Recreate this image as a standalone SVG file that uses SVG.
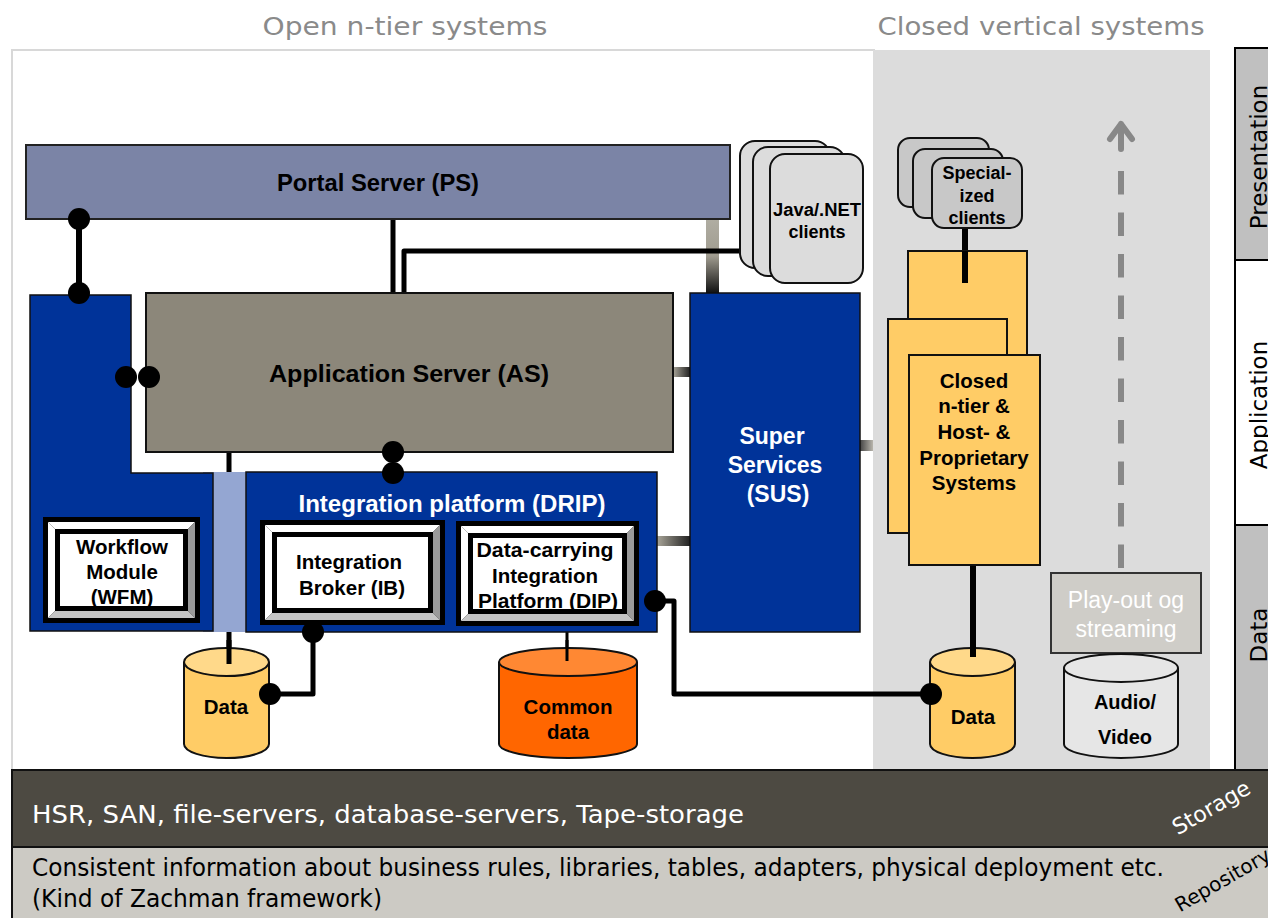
<svg xmlns="http://www.w3.org/2000/svg" width="1268" height="918" viewBox="0 0 1268 918">
<defs>
<style>
.b{font-family:"Liberation Sans",Arial,sans-serif;font-weight:bold;text-anchor:middle;fill:#000}
.w{fill:#fff}
.t{font-family:"DejaVu Sans","Liberation Sans",sans-serif}
.ln{fill:none;stroke:#000;stroke-width:5;stroke-linejoin:round}
.dot{fill:#000}
.frame{fill:#000}
.hi{fill:#fff}
.sh{fill:#9a9a9a}
.sb{fill:#c4c4c4}
.bl{fill:#003399;stroke:#111;stroke-width:1.5}
</style>
<linearGradient id="gv" x1="0" y1="0" x2="0" y2="1"><stop offset="0" stop-color="#b0ada2"/><stop offset="0.5" stop-color="#a09c90"/><stop offset="1" stop-color="#111"/></linearGradient>
<linearGradient id="gh" x1="0" y1="0" x2="1" y2="0"><stop offset="0" stop-color="#a8a498"/><stop offset="1" stop-color="#222"/></linearGradient>
<linearGradient id="gh2" x1="0" y1="0" x2="1" y2="0"><stop offset="0" stop-color="#444"/><stop offset="1" stop-color="#b8b5ac"/></linearGradient>
</defs>

<!-- backgrounds -->
<rect x="0" y="0" width="1268" height="918" fill="#fff"/>
<rect x="12" y="50" width="862" height="720" fill="#fff" stroke="#d8d8d8" stroke-width="2"/>
<rect x="873" y="50" width="337" height="720" fill="#dcdcdc"/>
<text class="t" x="405" y="35" font-size="24" fill="#8a8a8a" text-anchor="middle" textLength="285" lengthAdjust="spacingAndGlyphs">Open n-tier systems</text>
<text class="t" x="1041" y="35" font-size="24" fill="#8a8a8a" text-anchor="middle" textLength="327" lengthAdjust="spacingAndGlyphs">Closed vertical systems</text>

<!-- tier column -->
<g id="tiers">
<rect x="1235" y="48" width="40" height="212" fill="#c0c0c0" stroke="#000" stroke-width="2"/>
<rect x="1235" y="260" width="40" height="265" fill="#fff" stroke="#000" stroke-width="2"/>
<rect x="1235" y="525" width="40" height="245" fill="#c0c0c0" stroke="#000" stroke-width="2"/>
<text class="t" transform="translate(1267,157) rotate(-90)" font-size="23" text-anchor="middle" fill="#000">Presentation</text>
<text class="t" transform="translate(1267,405) rotate(-90)" font-size="23" text-anchor="middle" fill="#000">Application</text>
<text class="t" transform="translate(1267,635) rotate(-90)" font-size="23" text-anchor="middle" fill="#000">Data</text>
</g>

<!-- connectors -->
<g id="connectors">
<rect x="706" y="219" width="13" height="74" fill="url(#gv)"/>
<rect x="673" y="367" width="17" height="10" fill="url(#gh)"/>
<rect x="657" y="536" width="33" height="10" fill="url(#gh)"/>
<rect x="860" y="440" width="13" height="11" fill="url(#gh2)"/>
<line class="ln" x1="393" y1="219" x2="393" y2="293"/>
<path class="ln" d="M404,293 V251 H763"/>
<line class="ln" x1="229" y1="452" x2="229" y2="664"/>
<path class="ln" d="M313,632 V694 H270" stroke-width="6"/>
<line x1="567" y1="626" x2="567" y2="660" stroke="#000" stroke-width="3"/>
<path class="ln" d="M655,601 H674 V694 H931" stroke-width="6"/>
<line x1="973" y1="565" x2="973" y2="657" stroke="#000" stroke-width="6"/>
<line x1="965" y1="228" x2="965" y2="283" stroke="#000" stroke-width="6"/>
<line x1="79" y1="219" x2="79" y2="293" stroke="#000" stroke-width="6"/>
<path d="M1121,568 V167" stroke="#888" stroke-width="6" stroke-dasharray="23.5 18" fill="none"/>
<path d="M1121,149 V124 M1110,139 L1121,124 L1132,139" stroke="#888" stroke-width="6" fill="none" stroke-linecap="round" stroke-linejoin="round"/>
</g>

<!-- nodes -->
<g id="ps">
<rect x="26" y="145" width="704" height="74" fill="#7b84a6" stroke="#222" stroke-width="2"/>
<text class="b" x="378" y="191" font-size="23" textLength="202" lengthAdjust="spacingAndGlyphs">Portal Server (PS)</text>
</g>

<g id="java-clients">
<rect x="740" y="141" width="90" height="127" rx="15" fill="#dcdcdc" stroke="#111" stroke-width="2"/>
<rect x="753" y="147" width="92" height="129" rx="15" fill="#dcdcdc" stroke="#111" stroke-width="2"/>
<rect x="770" y="154" width="93" height="129" rx="15" fill="#dcdcdc" stroke="#111" stroke-width="2"/>
<text class="b" x="817" y="216" font-size="18" textLength="88" lengthAdjust="spacingAndGlyphs">Java/.NET</text>
<text class="b" x="817" y="238" font-size="18">clients</text>
</g>

<g id="wfm-block">
<rect x="203" y="472" width="45" height="160" fill="#94a6d2"/>
<path class="bl" d="M30,295 H131 V473 H213 V631 H30 Z"/>
</g>

<g id="as">
<rect x="146" y="293" width="527" height="159" fill="#8c877a" stroke="#111" stroke-width="2"/>
<text class="b" x="409" y="382" font-size="24" textLength="280" lengthAdjust="spacingAndGlyphs">Application Server (AS)</text>
</g>

<g id="sus">
<rect class="bl" x="690" y="293" width="170" height="339"/>
<text class="b w" x="772" y="444" font-size="23">Super</text>
<text class="b w" x="775" y="473" font-size="23">Services</text>
<text class="b w" x="778" y="502" font-size="23">(SUS)</text>
</g>

<g id="drip">
<rect class="bl" x="246" y="472" width="411" height="160"/>
<text class="b w" x="452" y="512" font-size="23" textLength="307" lengthAdjust="spacingAndGlyphs">Integration platform (DRIP)</text>
</g>

<g id="wfm">
<rect class="frame" x="43" y="517" width="157" height="106"/>
<polygon class="hi" points="48,522 195,522 188,529 55,529"/>
<polygon class="hi" points="48,522 55,529 55,611 48,618"/>
<polygon class="sh" points="195,522 195,618 188,611 188,529"/>
<polygon class="sb" points="48,618 195,618 188,611 55,611"/>
<rect x="60" y="534" width="123" height="72" fill="#fff"/>
<text class="b" x="122" y="554" font-size="20.5">Workflow</text>
<text class="b" x="122" y="579" font-size="20.5">Module</text>
<text class="b" x="122" y="604" font-size="20.5">(WFM)</text>
</g>

<g id="ib">
<rect class="frame" x="260" y="520" width="185" height="105"/>
<polygon class="hi" points="265,525 440,525 433,532 272,532"/>
<polygon class="hi" points="265,525 272,532 272,613 265,620"/>
<polygon class="sh" points="440,525 440,620 433,613 433,532"/>
<polygon class="sb" points="265,620 440,620 433,613 272,613"/>
<rect x="277" y="537" width="151" height="71" fill="#fff"/>
<text class="b" x="349" y="569" font-size="20.5">Integration</text>
<text class="b" x="352" y="595" font-size="20.5">Broker (IB)</text>
</g>

<g id="dip">
<rect class="frame" x="456" y="521" width="183" height="105"/>
<polygon class="hi" points="461,526 634,526 627,533 468,533"/>
<polygon class="hi" points="461,526 468,533 468,614 461,621"/>
<polygon class="sh" points="634,526 634,621 627,614 627,533"/>
<polygon class="sb" points="461,621 634,621 627,614 468,614"/>
<rect x="473" y="538" width="149" height="71" fill="#fff"/>
<text class="b" x="545" y="557" font-size="20.5" textLength="137" lengthAdjust="spacingAndGlyphs">Data-carrying</text>
<text class="b" x="545" y="583" font-size="20.5">Integration</text>
<text class="b" x="548" y="608" font-size="20.5" textLength="140" lengthAdjust="spacingAndGlyphs">Platform (DIP)</text>
</g>

<g id="data1">
<path d="M184,662 V744 A42.5,14 0 0 0 269,744 V662" fill="#ffcc66" stroke="#111" stroke-width="2"/>
<ellipse cx="226.5" cy="662" rx="42.5" ry="14" fill="#ffd98a" stroke="#111" stroke-width="2"/>
<line x1="229" y1="640" x2="229" y2="664" stroke="#000" stroke-width="5"/>
<text class="b" x="226" y="714" font-size="20.5">Data</text>
</g>

<g id="common-data">
<path d="M499,662 V744 A69,14 0 0 0 637,744 V662" fill="#ff6600" stroke="#111" stroke-width="2"/>
<ellipse cx="568" cy="662" rx="69" ry="14" fill="#ff8833" stroke="#111" stroke-width="2"/>
<line x1="567" y1="640" x2="567" y2="661" stroke="#000" stroke-width="3"/>
<text class="b" x="568" y="714" font-size="20.5">Common</text>
<text class="b" x="568" y="739" font-size="20.5">data</text>
</g>

<g id="spec-clients">
<rect x="898" y="138" width="91" height="69" rx="12" fill="#c8c8c8" stroke="#111" stroke-width="2"/>
<rect x="913" y="149" width="90" height="69" rx="12" fill="#c8c8c8" stroke="#111" stroke-width="2"/>
<rect x="932" y="158" width="90" height="70" rx="12" fill="#c8c8c8" stroke="#111" stroke-width="2"/>
<text class="b" x="977" y="179" font-size="18">Special-</text>
<text class="b" x="977" y="202" font-size="18">ized</text>
<text class="b" x="977" y="224" font-size="18">clients</text>
</g>

<g id="closed-systems">
<rect x="908" y="251" width="119" height="160" fill="#ffcc66" stroke="#111" stroke-width="2"/>
<rect x="888" y="319" width="119" height="214" fill="#ffcc66" stroke="#111" stroke-width="2"/>
<rect x="909" y="355" width="131" height="210" fill="#ffcc66" stroke="#111" stroke-width="2"/>
<line x1="965" y1="251" x2="965" y2="283" stroke="#000" stroke-width="6"/>
<text class="b" x="974" y="388" font-size="20.5">Closed</text>
<text class="b" x="974" y="413" font-size="20.5">n-tier &amp;</text>
<text class="b" x="974" y="439" font-size="20.5">Host- &amp;</text>
<text class="b" x="974" y="465" font-size="20.5">Proprietary</text>
<text class="b" x="974" y="490" font-size="20.5">Systems</text>
</g>

<g id="data2">
<path d="M930,662 V744 A42.5,14 0 0 0 1015,744 V662" fill="#ffcc66" stroke="#111" stroke-width="2"/>
<ellipse cx="972.5" cy="662" rx="42.5" ry="14" fill="#ffd98a" stroke="#111" stroke-width="2"/>
<line x1="973" y1="640" x2="973" y2="657" stroke="#000" stroke-width="6"/>
<text class="b" x="973" y="724" font-size="20.5">Data</text>
</g>

<g id="playout">
<rect x="1051" y="573" width="150" height="80" fill="#cfcdc8" stroke="#333" stroke-width="2"/>
<text x="1126" y="608" font-family="Liberation Sans,Arial,sans-serif" font-size="23" fill="#fff" text-anchor="middle">Play-out og</text>
<text x="1126" y="637" font-family="Liberation Sans,Arial,sans-serif" font-size="23" fill="#fff" text-anchor="middle">streaming</text>
</g>

<g id="av">
<path d="M1064,668 V744 A57,14 0 0 0 1178,744 V668" fill="#e6e6e6" stroke="#111" stroke-width="2"/>
<ellipse cx="1121" cy="668" rx="57" ry="14" fill="#e6e6e6" stroke="#111" stroke-width="2"/>
<text class="b" x="1125" y="709" font-size="20">Audio/</text>
<text class="b" x="1125" y="744" font-size="20">Video</text>
</g>

<!-- dots -->
<g id="dots">
<circle class="dot" cx="79" cy="219" r="11"/>
<circle class="dot" cx="79" cy="293" r="11"/>
<circle class="dot" cx="126" cy="377" r="11"/>
<circle class="dot" cx="149" cy="377" r="11"/>
<circle class="dot" cx="393" cy="452" r="11"/>
<circle class="dot" cx="393" cy="473" r="11"/>
<circle class="dot" cx="313" cy="632" r="11"/>
<circle class="dot" cx="270" cy="694" r="11"/>
<circle class="dot" cx="655" cy="601" r="11"/>
<circle class="dot" cx="931" cy="694" r="11"/>
</g>

<!-- bottom bands -->
<g id="storage">
<rect x="12" y="770" width="1270" height="77" fill="#4d4a42" stroke="#111" stroke-width="2"/>
<text class="t" x="32" y="823" font-size="24" fill="#fff" textLength="712" lengthAdjust="spacingAndGlyphs">HSR, SAN, file-servers, database-servers, Tape-storage</text>
<text class="t" transform="translate(1215,814) rotate(-30)" font-size="22" fill="#fff" text-anchor="middle">Storage</text>
</g>
<g id="repository">
<rect x="12" y="847" width="1270" height="80" fill="#cccac4" stroke="#111" stroke-width="2"/>
<text class="t" x="32" y="876" font-size="24" fill="#000" textLength="1132" lengthAdjust="spacingAndGlyphs">Consistent information about business rules, libraries, tables, adapters, physical deployment etc.</text>
<text class="t" x="32" y="907" font-size="24" fill="#000" textLength="350" lengthAdjust="spacingAndGlyphs">(Kind of Zachman framework)</text>
<text class="t" transform="translate(1226,886) rotate(-30)" font-size="20" fill="#000" text-anchor="middle">Repository</text>
</g>
</svg>
